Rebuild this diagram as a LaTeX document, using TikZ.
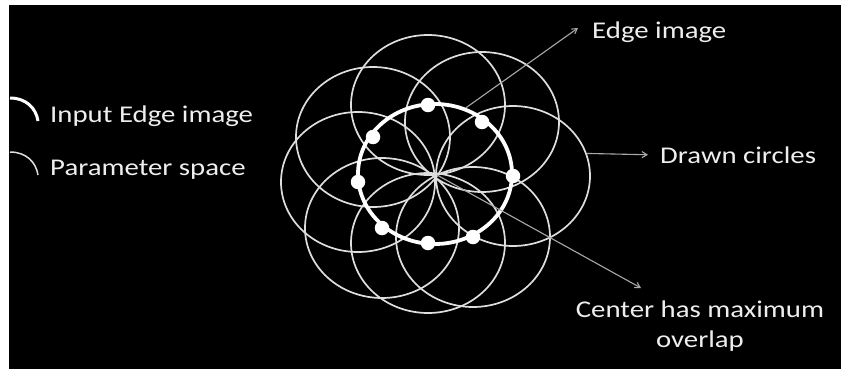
\documentclass[tikz,border=0pt]{standalone}
\usepackage{fontspec}
\setmainfont{Carlito}
\usetikzlibrary{arrows.meta,shapes.geometric}
\definecolor{circgray}{HTML}{DEDEDE}
\definecolor{arrowgray}{HTML}{A8A8A8}
\definecolor{textgray}{HTML}{EEEEEE}
\tikzset{
  drawncircle/.style={draw=circgray, ellipse, line width=1.7pt,
    minimum width=154pt, minimum height=140pt, inner sep=0pt},
  edgering/.style={draw=white, ellipse, line width=3.8pt,
    minimum width=154pt, minimum height=140pt, inner sep=0pt},
  edgedot/.style={circle, fill=white, minimum size=14.5pt, inner sep=0pt},
  pointer/.style={-{Straight Barb[length=5pt,width=6pt]}, draw=arrowgray, line width=1.1pt},
  labeltext/.style={text=textgray, inner sep=0pt, xscale=1.2,
    font=\fontsize{24}{30}\selectfont},
}

\begin{document}
\begin{tikzpicture}[x=1pt, y=-1pt]
  \useasboundingbox (0,0) rectangle (841,369);
  \fill[black] (9,5) rectangle (841,369);

  \foreach \n/\px/\py in {1/428/105, 2/482/122, 3/513/176, 4/473/237,
                          5/428/243, 6/382/228, 7/358/182, 8/373/137} {
    \coordinate (p\n) at (\px,\py);
    \node[drawncircle] (c\n) at (p\n) {};
  }
  \node[edgering] (ring) at (435,174) {};
  \foreach \n in {1,...,8}
    \node[edgedot] (d\n) at (p\n) {};
  \coordinate (ctr) at (437,175);

  \draw[white, line width=3pt] (10,98) .. controls (26,98) and (36,108) .. (38,121);
  \draw[circgray, line width=1.5pt] (10,152) .. controls (26,152) and (36,162) .. (38,175);
  \node[labeltext, anchor=base west] (inputtxt) at (50,122) {Input Edge image};
  \node[labeltext, anchor=base west] (paramtxt) at (50,175) {Parameter space};

  \node[labeltext, anchor=base west] (edgetxt) at (592,39) {Edge image};
  \node[labeltext, anchor=base west] (drawntxt) at (660,163) {Drawn circles};
  \node[labeltext, anchor=base, align=center] (overlaptxt) at (700,347)
    {Center has maximum\\overlap};

  \coordinate (edgetip) at (578,28);
  \coordinate (overlaptip) at (641,288);
  \draw[pointer] (ring.65) -- (edgetip);
  \draw[pointer] (c3.17) -- ([xshift=-12pt]drawntxt.west);
  \draw[pointer] (ctr) -- (overlaptip);
\end{tikzpicture}
\end{document}
